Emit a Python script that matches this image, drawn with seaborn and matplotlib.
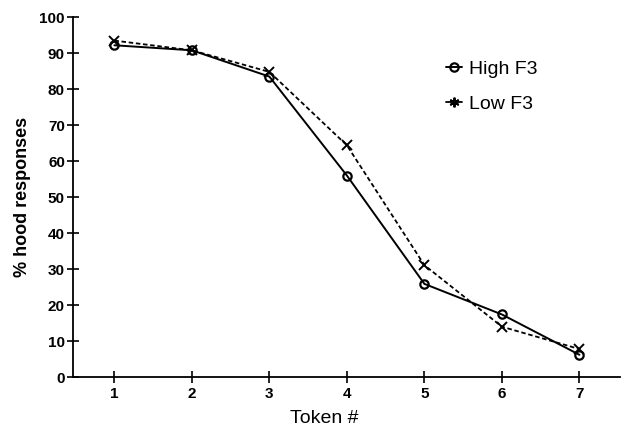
import matplotlib
matplotlib.use("Agg")
import matplotlib.pyplot as plt
import seaborn as sns
import pandas as pd

tokens = [1, 2, 3, 4, 5, 6, 7]
high_f3 = [92.2, 90.8, 83.5, 56.0, 25.9, 17.4, 6.2]
low_f3 = [93.5, 90.8, 84.8, 64.4, 31.1, 14.0, 7.8]
series_names = ["High F3", "Low F3"]
y_ticks = [0, 10, 20, 30, 40, 50, 60, 70, 80, 90, 100]

df_high = pd.DataFrame({"Token #": tokens, "% hood responses": high_f3})
df_low = pd.DataFrame({"Token #": tokens, "% hood responses": low_f3})

sns.set_theme(style="ticks")
plt.rcParams["font.family"] = ["Liberation Sans", "DejaVu Sans"]
plt.rcParams["text.color"] = "black"
plt.rcParams["axes.labelcolor"] = "black"

fig = plt.figure(figsize=(6.21, 4.30), dpi=100)
ax = fig.add_axes([0.118, 0.123, 0.88, 0.837])

sns.lineplot(data=df_high, x="Token #", y="% hood responses", color="black",
             marker="o", markersize=6, markerfacecolor="none",
             markeredgecolor="black", markeredgewidth=1.6, linewidth=1.4,
             label=series_names[0], ax=ax)
sns.lineplot(data=df_low, x="Token #", y="% hood responses", color="black",
             marker="x", markersize=7, markeredgecolor="black",
             markeredgewidth=1.4, linewidth=1.3,
             label=series_names[1], ax=ax)
ax.lines[1].set_linestyle((0, (2.5, 1.5)))

ax.set_xlim(0.47, 7.52)
ax.set_ylim(0, 100)
ax.set_xticks(tokens)
ax.set_yticks(y_ticks)
for lab in ax.get_xticklabels() + ax.get_yticklabels():
    lab.set_fontweight("bold")
ax.tick_params(axis="both", direction="inout", length=8, width=1.2, labelsize=11,
               colors="black", labelcolor="black")
ax.tick_params(axis="y", pad=2)
ax.tick_params(axis="x", pad=3)
for s in ["top", "right"]:
    ax.spines[s].set_visible(False)
for s in ["left", "bottom"]:
    ax.spines[s].set_linewidth(1.3)
    ax.spines[s].set_color("black")

ax.set_xlabel("Token #", fontsize=14, color="black")
ax.xaxis.set_label_coords(0.459, -0.09)
ax.set_ylabel("% hood responses", fontsize=13, fontweight="bold", labelpad=6, color="black")

leg = ax.legend(frameon=False, loc="upper left",
                bbox_to_anchor=(0.65, 0.93), fontsize=14, handlelength=0.8,
                handletextpad=0.4, labelspacing=0.9, labelcolor="black")
lh = leg.legend_handles
for h in lh:
    h.set_linestyle("-")
lh[1].set_marker((6, 2, 0))

fig.savefig("out.png", dpi=100)
